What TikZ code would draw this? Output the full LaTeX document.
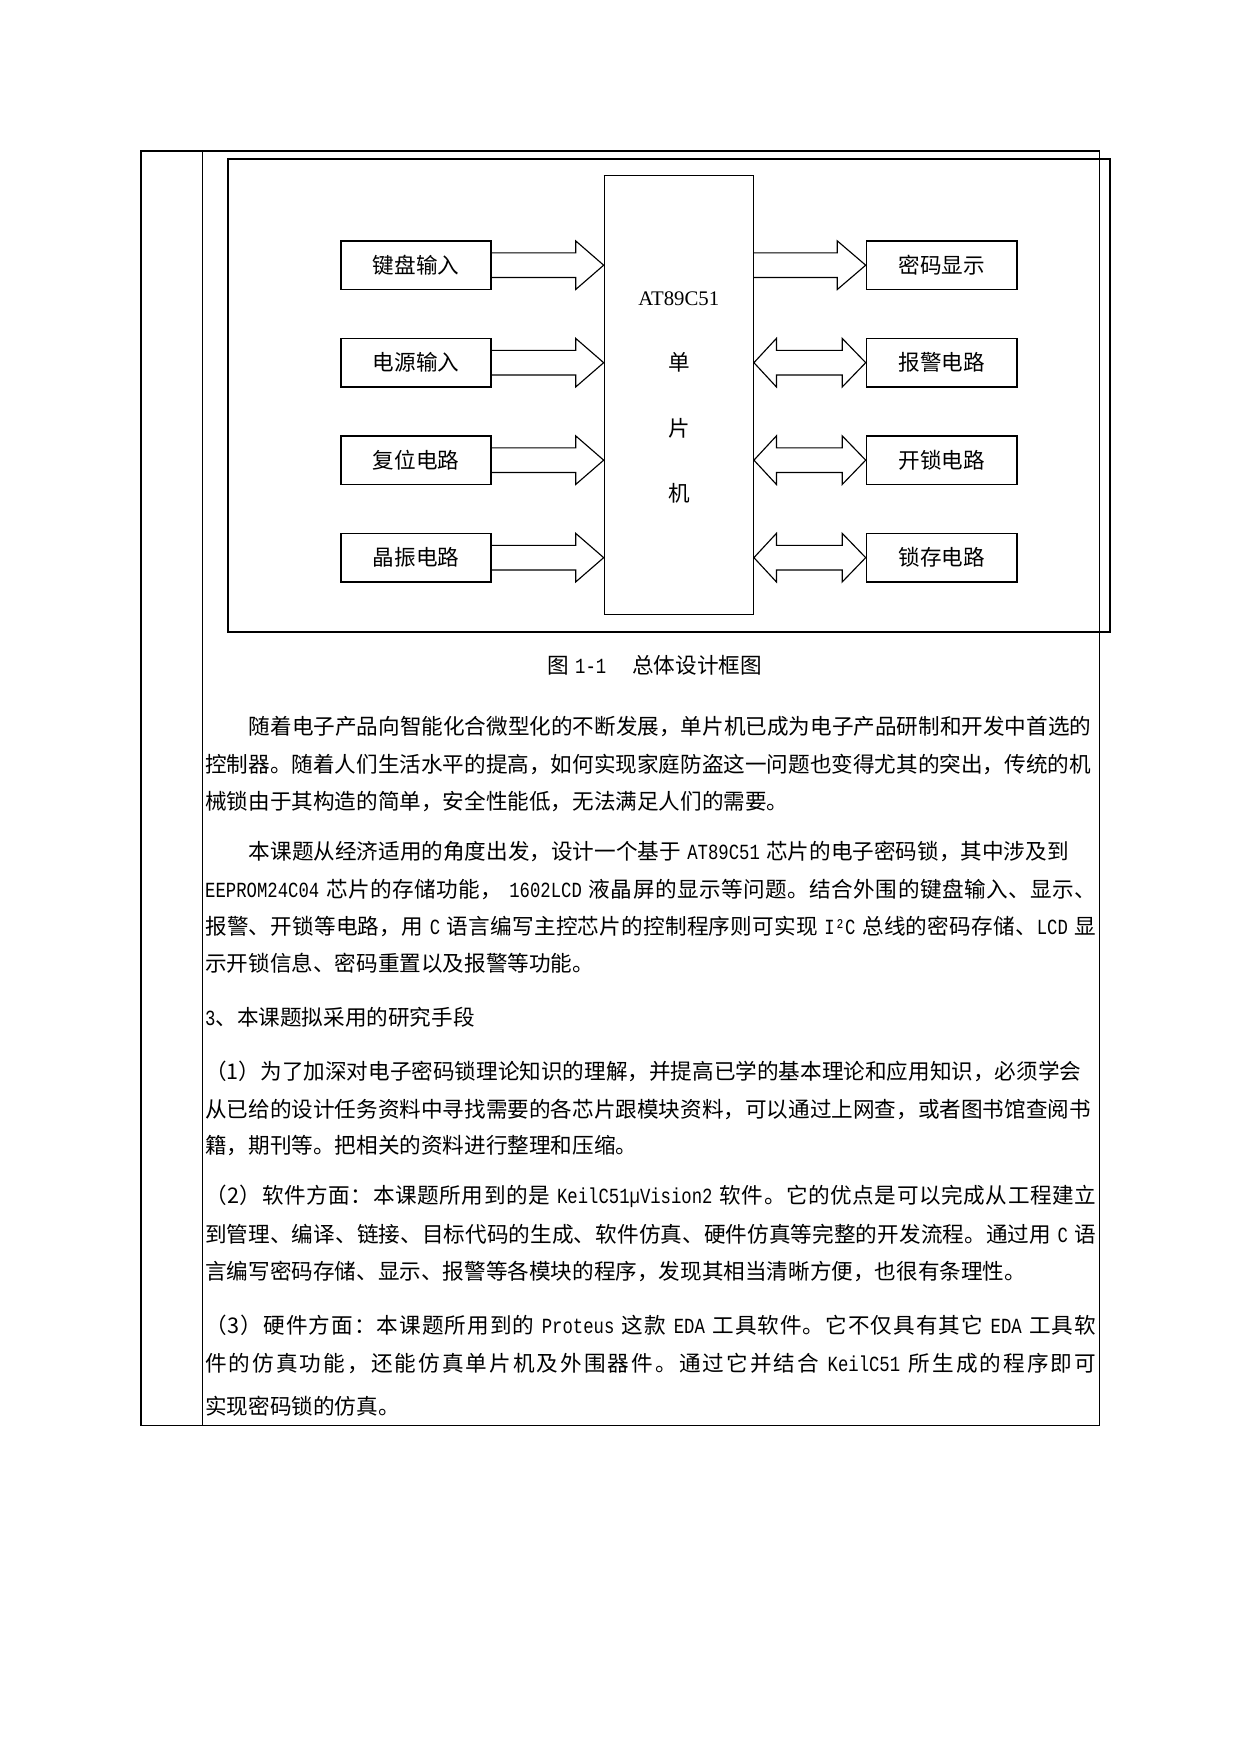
\documentclass[tikz,border=0pt]{standalone}
\usepackage{fontspec}
\usepackage{tikz}
\usetikzlibrary{positioning, calc}
\setmainfont{Liberation Serif}
\newfontfamily\cjk{Noto Sans CJK SC}
\newfontfamily\hwfont[FakeStretch=0.8]{Liberation Mono}
\newcommand{\hw}[1]{\hspace{0.3em}{\hwfont #1}\hspace{0.3em}}
\newcommand{\hwl}[1]{{\hwfont #1}\hspace{0.3em}}
\makeatletter
% full-width line: glue between every item
\newcommand{\jl}[1]{\hbox to 150.78mm{\@tfor\jtok:=#1\do{\jtok\hskip 0pt plus 1fil}\unskip}}
\makeatother
\tikzset{
	blk/.style={rectangle, draw=black, line width=0.7pt, minimum width=25.45mm, minimum height=8.2mm, inner sep=0pt, text centered, font=\cjk\fontsize{10.4}{12}\selectfont},
	chip/.style={rectangle, draw=black, line width=0.35pt, minimum width=25.3mm, minimum height=74.2mm, inner sep=0pt},
	chiptext/.style={inner sep=0pt, font=\cjk\fontsize{10.4}{12}\selectfont},
	fatarrow/.style={draw=black, line width=0.55pt, line join=miter},
	txtline/.style={anchor=west, inner sep=0pt, font=\cjk\fontsize{10.4}{12}\selectfont},
}
\begin{document}
\begin{tikzpicture}[x=0.16922mm, y=-0.16922mm]
	\useasboundingbox (0,0) rectangle (1241,1754);
	\fill[white] (0,0) rectangle (1241,1754);
	% table rules
	\draw[line width=0.8pt] (141,1425.5) -- (141,151) -- (1099.5,151);
	\draw[line width=0.45pt] (1099.5,151) -- (1099.5,1425.5) -- (202.5,1425.5);
	\draw[line width=0.8pt] (202.5,1425.5) -- (141,1425.5);
	\draw[line width=0.32pt] (202.5,151) -- (202.5,1425.5);
	% figure frame
	\draw[line width=0.8pt] (228,159) rectangle (1110,632);
	% single-chip unit
	\node[chip] (mcu) at (678.8,395) {};
	\draw[line width=0.8pt] (mcu.north west) -- (mcu.north east);
	\node[chiptext, font=\fontsize{10}{12}\selectfont] (mname) at ($(mcu.north)+(0,123.3)$) {AT89C51};
	\node[chiptext] (m1) at ($(mcu.north)+(0,187.3)$) {单};
	\node[chiptext] (m2) at ($(mcu.north)+(0,252.9)$) {片};
	\node[chiptext] (m3) at ($(mcu.north)+(0,317.8)$) {机};
	% inputs
	\node[blk] (kbd) at (416,265.2) {键盘输入};
	\node[blk, below=8.05mm of kbd] (pwr) {电源输入};
	\node[blk, below=8.05mm of pwr] (rst) {复位电路};
	\node[blk, below=8.05mm of rst] (osc) {晶振电路};
	% outputs
	\node[blk, right=63.25mm of kbd] (disp) {密码显示};
	\node[blk, right=63.25mm of pwr] (alarm) {报警电路};
	\node[blk, right=63.25mm of rst] (unlock) {开锁电路};
	\node[blk, right=63.25mm of osc] (latch) {锁存电路};
	% block arrows
	\foreach \src in {kbd,pwr,rst,osc}{
		\coordinate (tip) at (mcu.west |- \src.east);
		\draw[fatarrow] ($(\src.east)+(0,-12.3)$) -- ($(tip)+(-28,-12.3)$) -- ++(0,-12) -- (tip) -- ++(-28,24.3) -- ++(0,-12) -- ($(\src.east)+(0,12.3)$);
	}
	\coordinate (tail) at (mcu.east |- disp.west);
	\draw[fatarrow] ($(tail)+(0,-12.3)$) -- ($(disp.west)+(-28.4,-12.3)$) -- ++(0,-12) -- (disp.west) -- ++(-28.4,24.3) -- ++(0,-12) -- ($(tail)+(0,12.3)$);
	\foreach \dst in {alarm,unlock,latch}{
		\coordinate (tl) at (mcu.east |- \dst.west);
		\draw[fatarrow] (tl) -- ++(22.5,-24.3) -- ++(0,12) -- ($(\dst.west)+(-23.5,-12.3)$) -- ++(0,-12) -- (\dst.west) -- ++(-23.5,24.3) -- ++(0,-12) -- ($(tl)+(22.5,12.3)$) -- ++(0,12) -- cycle;
	}
	% caption
	\node[txtline, anchor=center] (cap) at (654.5,665) {图\hw{1-1}\hspace{0.9em}总体设计框图};
	% body text, one node per printed line
	\foreach \ly/\lx/\lt [count=\i] in {
		726.3/248.4/{随着电子产品向智能化合微型化的不断发展，单片机已成为电子产品研制和开发中首选的},
		764.3/204.8/{控制器。随着人们生活水平的提高，如何实现家庭防盗这一问题也变得尤其的突出，传统的机},
		801.3/204.8/{械锁由于其构造的简单，安全性能低，无法满足人们的需要。},
		851.6/248.4/{本课题从经济适用的角度出发，设计一个基于\hw{AT89C51}芯片的电子密码锁，其中涉及到},
		889.7/204.8/{\jl{{\hwl{EEPROM24C04}}芯片的存储功能，{\hw{1602LCD}}液晶屏的显示等问题。结合外围的键盘输入、显示、}},
		926.6/204.8/{\jl{报警、开锁等电路，用{\hw{C}}语言编写主控芯片的控制程序则可实现{\hw{I²C}}总线的密码存储、{\hwl{LCD}}显}},
		963.5/204.8/{示开锁信息、密码重置以及报警等功能。},
		1017.3/204.8/{{\hwfont 3}、本课题拟采用的研究手段},
		1071.0/204.8/{（1）为了加深对电子密码锁理论知识的理解，并提高已学的基本理论和应用知识，必须学会},
		1109.0/204.8/{从已给的设计任务资料中寻找需要的各芯片跟模块资料，可以通过上网查，或者图书馆查阅书},
		1146.0/204.8/{籍，期刊等。把相关的资料进行整理和压缩。},
		1196.3/204.8/{\jl{（2）软件方面：本课题所用到的是{\hw{KeilC51µVision2}}软件。它的优点是可以完成从工程建立}},
		1234.4/204.8/{\jl{到管理、编译、链接、目标代码的生成、软件仿真、硬件仿真等完整的开发流程。通过用{\hw{C}}语}},
		1271.3/204.8/{言编写密码存储、显示、报警等各模块的程序，发现其相当清晰方便，也很有条理性。},
		1325.0/204.8/{\jl{（3）硬件方面：本课题所用到的{\hw{Proteus}}这款{\hw{EDA}}工具软件。它不仅具有其它{\hw{EDA}}工具软}},
		1363.1/204.8/{\jl{件的仿真功能，还能仿真单片机及外围器件。通过它并结合{\hw{KeilC51}}所生成的程序即可}},
		1406.7/204.8/{实现密码锁的仿真。}}{
		\node[txtline] (line\i) at (\lx,\ly) {\lt};
	}
\end{tikzpicture}
\end{document}
